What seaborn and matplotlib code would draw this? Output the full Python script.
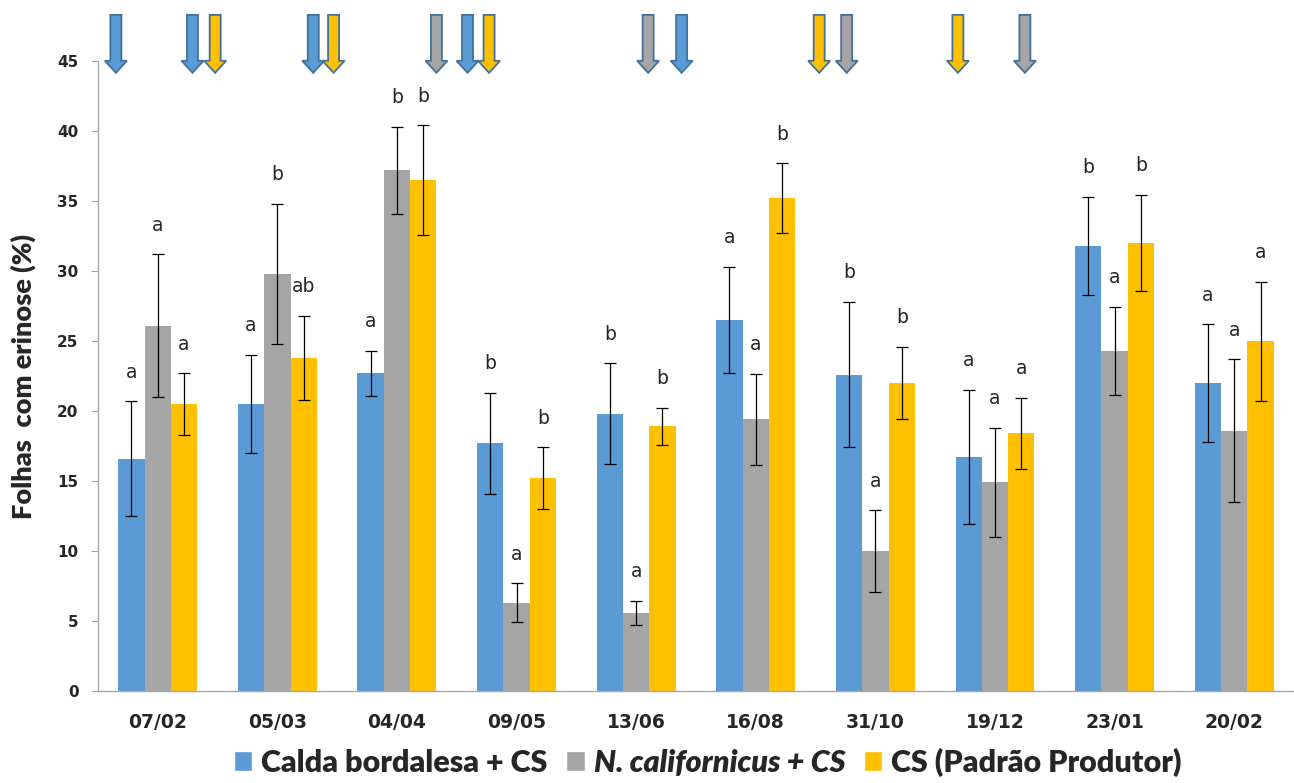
import numpy as np
import pandas as pd
import seaborn as sns
import matplotlib.pyplot as plt
from matplotlib.patches import FancyArrow, Patch

# Datas de amostragem e tratamentos
datas = ['07/02', '05/03', '04/04', '09/05', '13/06', '16/08', '31/10', '19/12', '23/01', '20/02']
tratamentos = ['Calda bordalesa + CS', 'N. californicus + CS', 'CS (Padrão Produtor)']
cores = ['#5B9BD5', '#A5A5A5', '#FFC000']

# % de folhas com erinose (média) e erro
calda = [16.6, 20.5, 22.7, 17.7, 19.8, 26.5, 22.6, 16.7, 31.8, 22.0]
calda_err = [4.1, 3.5, 1.6, 3.6, 3.6, 3.8, 5.2, 4.8, 3.5, 4.2]
califor = [26.1, 29.8, 37.2, 6.3, 5.6, 19.4, 10.0, 14.9, 24.3, 18.6]
califor_err = [5.1, 5.0, 3.1, 1.4, 0.85, 3.25, 2.9, 3.9, 3.15, 5.1]
produtor = [20.5, 23.8, 36.5, 15.2, 18.9, 35.2, 22.0, 18.4, 32.0, 25.0]
produtor_err = [2.2, 3.0, 3.9, 2.2, 1.35, 2.5, 2.6, 2.55, 3.45, 4.25]

# letras de significância
letras_calda = ['a', 'a', 'a', 'b', 'b', 'a', 'b', 'a', 'b', 'a']
letras_califor = ['a', 'b', 'b', 'a', 'a', 'a', 'a', 'a', 'a', 'a']
letras_produtor = ['a', 'ab', 'b', 'b', 'b', 'b', 'b', 'a', 'b', 'a']

# aplicações (setas no topo): posição no eixo das datas e tratamento
aplic_pos = [-0.35, 0.29, 0.48, 1.30, 1.47, 2.33, 2.59, 2.77, 4.10, 4.38, 5.53, 5.76, 6.69, 7.25]
aplic_trat = [0, 0, 2, 0, 2, 1, 0, 2, 1, 0, 2, 1, 2, 1]

medias = [calda, califor, produtor]
erros = [calda_err, califor_err, produtor_err]
letras = [letras_calda, letras_califor, letras_produtor]

df = pd.DataFrame({
    'data': datas * 3,
    'tratamento': np.repeat(tratamentos, len(datas)),
    'valor': calda + califor + produtor,
})

sns.set_style('white')
fig = plt.figure(figsize=(12.94, 7.83), dpi=100)
ax = fig.add_axes([0.0757, 0.1175, 0.9243, 0.8045])

sns.barplot(data=df, x='data', y='valor', hue='tratamento', order=datas,
            hue_order=tratamentos, palette=cores, width=0.66, errorbar=None,
            saturation=1, legend=False, linewidth=0, ax=ax)

for cont, err, lets in zip(ax.containers, erros, letras):
    xs = [p.get_x() + p.get_width() / 2 for p in cont.patches]
    hs = [p.get_height() for p in cont.patches]
    ax.errorbar(xs, hs, yerr=err, fmt='none', ecolor='black', elinewidth=0.9,
                capsize=4.5, capthick=0.9)
    for x, h, e, l in zip(xs, hs, err, lets):
        ax.text(x, h + e + 1.4, l, ha='center', va='bottom', fontsize=13.5,
                family='DejaVu Sans')

for x, t in zip(aplic_pos, aplic_trat):
    ax.add_patch(FancyArrow(x, 48.3, 0, -4.14, width=0.092, head_width=0.184,
                            head_length=0.86, length_includes_head=True,
                            facecolor=cores[t], edgecolor='#41719C', lw=1.3,
                            clip_on=False, zorder=5))

ax.set_ylim(0, 45)
ax.set_xlim(-0.5, 9.5)
ax.set_yticks(range(0, 46, 5))
ax.set_xlabel('')
ax.set_ylabel('Folhas  com erinose (%)', fontsize=19.5, fontweight='heavy', family='Lato')
ax.yaxis.set_label_coords(-0.052, 0.5)

sns.despine(ax=ax)
for s in ['left', 'bottom']:
    ax.spines[s].set_color('#A6A6A6')
    ax.spines[s].set_linewidth(1)

ax.set_xticks(np.arange(-0.5, 10, 1), minor=True)
ax.tick_params(axis='x', which='major', length=0, pad=16)
ax.tick_params(axis='x', which='minor', length=5, color='#A6A6A6', direction='out')
ax.tick_params(axis='y', length=5, color='#A6A6A6', pad=9, direction='out', left=True)
for lab in ax.get_xticklabels():
    lab.set_fontsize(13.5)
    lab.set_fontweight('bold')
for lab in ax.get_yticklabels():
    lab.set_fontsize(11)
    lab.set_fontweight('bold')

handles = [Patch(facecolor=c) for c in cores]
leg = fig.legend(handles, tratamentos, loc='lower center', bbox_to_anchor=(0.547, -0.027),
                 ncol=3, frameon=False, prop=dict(family='Lato', weight='heavy', size=22),
                 handlelength=0.6, handleheight=0.6, columnspacing=0.6, handletextpad=0.3)
leg.get_texts()[1].set_style('italic')

fig.savefig('out.png', dpi=100)
